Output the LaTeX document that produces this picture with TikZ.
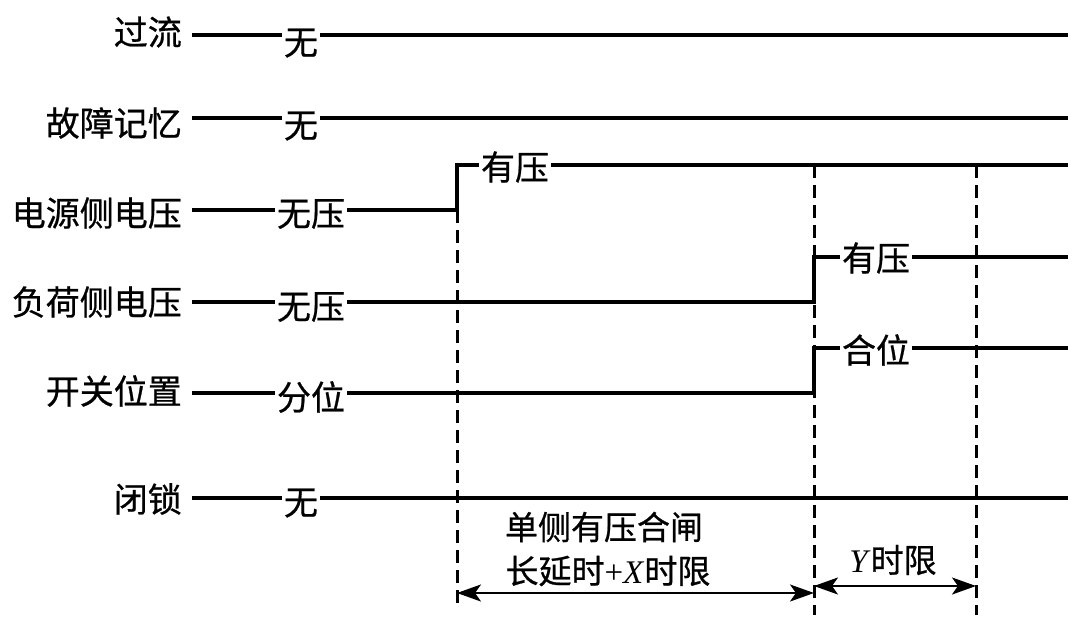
\documentclass[tikz,border=0pt]{standalone}
\usepackage{fontspec}
\setmainfont{Liberation Serif}
\newfontfamily\cjk[FakeBold=0.7]{Noto Sans CJK SC}
\usetikzlibrary{arrows.meta}
\begin{document}
\begin{tikzpicture}[x=1pt,y=-1pt,
  sig/.style={line width=3.4pt},
  guide/.style={line width=3pt, dash pattern=on 13pt off 7pt},
  dim/.style={line width=2.4pt, {Stealth[length=24pt,width=17pt,inset=6pt]}-{Stealth[length=24pt,width=17pt,inset=6pt]}},
  lbl/.style={font=\cjk\fontsize{34pt}{38pt}\selectfont, inner sep=0pt, anchor=east},
  st/.style={font=\cjk\fontsize{34pt}{38pt}\selectfont, inner xsep=2pt, inner ysep=0pt},
  note/.style={font=\fontsize{33pt}{38pt}\selectfont, inner sep=0pt}]
\useasboundingbox (0,0) rectangle (1080,632);

% row labels
\node[lbl] (l1) at (182,32) {过流};
\node[lbl] (l2) at (182,123) {故障记忆};
\node[lbl] (l3) at (182,213) {电源侧电压};
\node[lbl] (l4) at (182,302) {负荷侧电压};
\node[lbl] (l5) at (182,391) {开关位置};
\node[lbl] (l6) at (182,499) {闭锁};

% line starts
\coordinate (a1) at (192,35);
\coordinate (a2) at (192,118);
\coordinate (a3) at (192,210);
\coordinate (a4) at (192,302);
\coordinate (a5) at (192,393);
\coordinate (a6) at (192,498);

% line ends
\coordinate (e1) at (1068,35);
\coordinate (e2) at (1068,118);
\coordinate (e3) at (1068,165);
\coordinate (e4) at (1068,257);
\coordinate (e5) at (1068,348);
\coordinate (e6) at (1068,498);

% initial state labels
\node[st] (s1) at (301,43) {无};
\node[st] (s2) at (301,126) {无};
\node[st] (s3) at (311,214) {无压};
\node[st] (s4) at (311,307) {无压};
\node[st] (s5) at (311,397) {分位};
\node[st] (s6) at (301,503) {无};

% new state labels
\node[st] (h3) at (515,167) {有压};
\node[st] (h4) at (876,258) {有压};
\node[st] (h5) at (876,350) {合位};

% step points
\coordinate (d3) at (457,210);
\coordinate (u3) at (457,165);
\coordinate (d4) at (814,302);
\coordinate (u4) at (814,257);
\coordinate (d5) at (814,393);
\coordinate (u5) at (814,348);

% signals
\draw[sig] (a1) -- (s1.west |- a1);
\draw[sig] (s1.east |- a1) -- (e1);
\draw[sig] (a2) -- (s2.west |- a2);
\draw[sig] (s2.east |- a2) -- (e2);
\draw[sig] (a3) -- (s3.west |- a3);
\draw[sig] (s3.east |- a3) -- (d3) -- (u3) -- (h3.west |- u3);
\draw[sig] (h3.east |- u3) -- (e3);
\draw[sig] (a4) -- (s4.west |- a4);
\draw[sig] (s4.east |- a4) -- (d4) -- (u4) -- (h4.west |- u4);
\draw[sig] (h4.east |- u4) -- (e4);
\draw[sig] (a5) -- (s5.west |- a5);
\draw[sig] (s5.east |- a5) -- (d5) -- (u5) -- (h5.west |- u5);
\draw[sig] (h5.east |- u5) -- (e5);
\draw[sig] (a6) -- (s6.west |- a6);
\draw[sig] (s6.east |- a6) -- (e6);

% guide lines
\coordinate (g1) at (457,604);
\coordinate (t2) at (814,165);
\coordinate (g2) at (814,615);
\coordinate (t3) at (976,165);
\coordinate (g3) at (976,615);
\draw[guide] (d3) -- (g1);
\draw[guide] (t2) -- (g2);
\draw[guide] (t3) -- (g3);

% dimensions
\coordinate (p1) at (457,593);
\coordinate (p2) at (814,593);
\coordinate (q1) at (814,586);
\coordinate (q2) at (976,586);
\draw[dim] (p1) -- (p2);
\draw[dim] (q1) -- (q2);

\node[note] (n1) at (604,527) {\cjk 单侧有压合闸};
\node[note] (n2) at (608,571) {{\cjk 长延时}+\textit{X}{\cjk 时限}};
\node[note] (n3) at (893,560) {\textit{Y}{\cjk 时限}};
\end{tikzpicture}
\end{document}
